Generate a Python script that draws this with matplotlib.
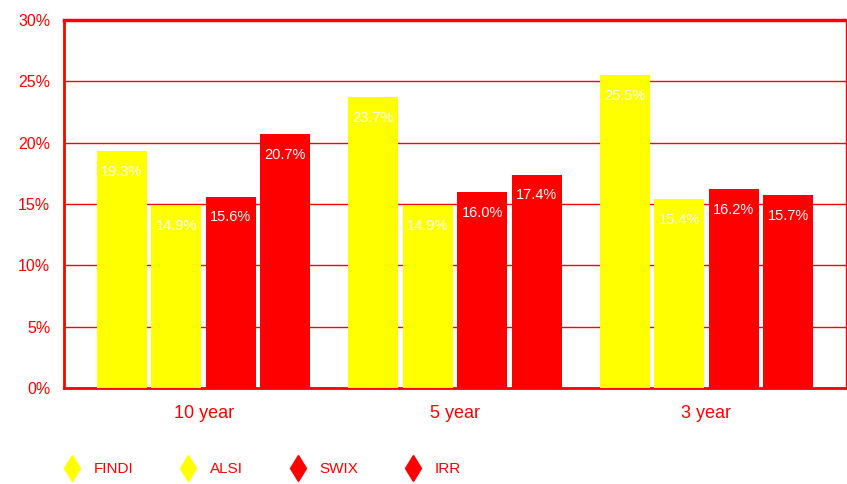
import numpy as np
import matplotlib.pyplot as plt
from matplotlib.lines import Line2D
from matplotlib.ticker import FuncFormatter

plt.rcParams['font.family'] = ['Liberation Sans', 'DejaVu Sans']

# Datos de rendimiento anualizado por periodo
periodos = ["10 year", "5 year", "3 year"]
series = ["FINDI", "ALSI", "SWIX", "IRR"]
findi = [19.3, 23.7, 25.5]
alsi = [14.9, 14.9, 15.4]
swix = [15.6, 16.0, 16.2]
irr = [20.7, 17.4, 15.7]
valores = [findi, alsi, swix, irr]
colores = ["#FFFF00", "#FFFF00", "#FF0000", "#FF0000"]

rojo = "#FF0000"
x = np.arange(len(periodos))
ancho = 0.199
paso = 0.217

fig = plt.figure(figsize=(8.47, 4.84), dpi=100)
ax = fig.add_axes([0.0756, 0.1983, 0.9232, 0.7604])

for i, (nombre, vals, col) in enumerate(zip(series, valores, colores)):
    pos = x + (i - 1.5) * paso
    barras = ax.bar(pos, vals, width=ancho, color=col, zorder=3, label=nombre)
    for b, v in zip(barras, vals):
        ax.annotate(f"{v:.1f}%", (b.get_x() + b.get_width() / 2, v),
                    xytext=(0, -15), textcoords="offset points",
                    ha="center", va="center", color="white", fontsize=10.5,
                    zorder=4)

ax.set_ylim(0, 30)
ax.set_xlim(-0.555, 2.555)
ax.set_yticks(np.arange(0, 31, 5))
ax.yaxis.set_major_formatter(FuncFormatter(lambda v, _: f"{v:.0f}%"))
ax.set_xticks(x)
ax.set_xticklabels(periodos)

ax.grid(axis="y", color=rojo, linewidth=1.0, zorder=1)
ax.tick_params(axis="both", length=0, colors=rojo)
ax.tick_params(axis="y", labelsize=11.5, pad=10)
ax.tick_params(axis="x", labelsize=13, pad=12)

for lado, grosor in [("left", 2.0), ("bottom", 2.0), ("top", 2.5), ("right", 1.0)]:
    ax.spines[lado].set_color(rojo)
    ax.spines[lado].set_linewidth(grosor)

# Leyenda con rombos en la parte inferior
manijas = [Line2D([], [], linestyle="none", marker="d", markersize=13,
                  markerfacecolor=c, markeredgecolor=c) for c in colores]
leg = fig.legend(manijas, series, loc="center left", bbox_to_anchor=(0.060, 0.031),
                 ncol=4, frameon=False, fontsize=11, handletextpad=0.9,
                 columnspacing=3.1, handlelength=1.0)
for t in leg.get_texts():
    t.set_color(rojo)

fig.savefig("out.png", dpi=100)
